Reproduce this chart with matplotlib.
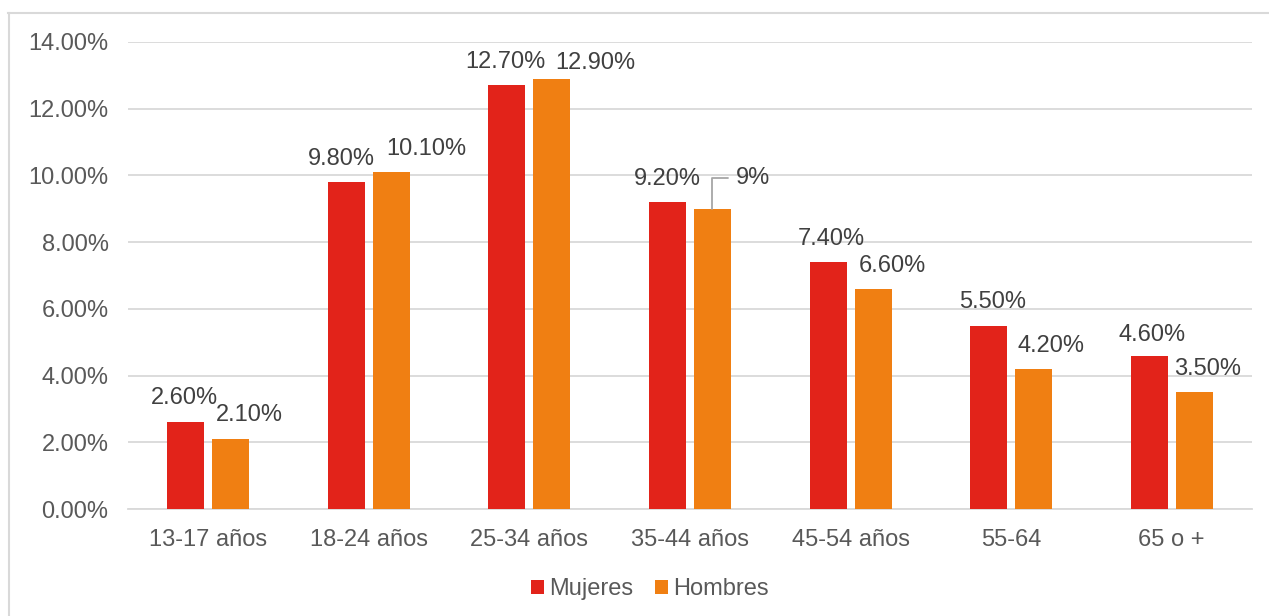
import numpy as np
import matplotlib.pyplot as plt
from matplotlib.lines import Line2D

# datos
categorias = ['13-17 años', '18-24 años', '25-34 años', '35-44 años',
              '45-54 años', '55-64', '65 o +']
mujeres = [2.6, 9.8, 12.7, 9.2, 7.4, 5.5, 4.6]
hombres = [2.1, 10.1, 12.9, 9.0, 6.6, 4.2, 3.5]
etq_mujeres = ['2.60%', '9.80%', '12.70%', '9.20%', '7.40%', '5.50%', '4.60%']
etq_hombres = ['2.10%', '10.10%', '12.90%', '9%', '6.60%', '4.20%', '3.50%']

# desplazamientos de etiquetas (pixeles)
off_m = [(-1, 24), (-5, 23), (-2, 23), (0, 23), (3, 23), (4, 24), (3, 21)]
off_h = [(19, 24), (35, 23), (43, 16), (41, 31), (19, 23), (17, 23), (13, 23)]

ROJO = '#E2231A'
NARANJA = '#F07F12'
GRIS = '#595959'
FS = 17
plt.rcParams['font.family'] = ['Liberation Sans', 'DejaVu Sans']

fig = plt.figure(figsize=(12.69, 6.16), dpi=100)
ax = fig.add_axes([128 / 1269, 1 - 509 / 616, (1252 - 128) / 1269, (509 - 42) / 616])

x = np.arange(len(categorias))
w = 0.23
d = 0.14
ax.bar(x - d, np.array(mujeres) / 100, w, color=ROJO, label='Mujeres', zorder=3)
ax.bar(x + d, np.array(hombres) / 100, w, color=NARANJA, label='Hombres', zorder=3)

for i in range(len(x)):
    ax.annotate(etq_mujeres[i], (x[i] - d, mujeres[i] / 100), xytext=off_m[i],
                textcoords='offset pixels', ha='center', va='center',
                fontsize=FS, color='#404040')
    if etq_hombres[i] == '9%':
        # etiqueta con linea guia
        ax.annotate(etq_hombres[i], (x[i] + d, hombres[i] / 100), xytext=off_h[i],
                    textcoords='offset pixels', ha='center', va='center',
                    fontsize=FS, color='#404040',
                    arrowprops=dict(arrowstyle='-', color='#a6a6a6', lw=1.3,
                                    connectionstyle='angle,angleA=0,angleB=90,rad=0',
                                    shrinkA=4, shrinkB=0))
    else:
        ax.annotate(etq_hombres[i], (x[i] + d, hombres[i] / 100), xytext=off_h[i],
                    textcoords='offset pixels', ha='center', va='center',
                    fontsize=FS, color='#404040')

ax.set_xlim(-0.5, len(x) - 0.5)
ax.set_ylim(0, 0.14)
ax.set_yticks(np.arange(0, 0.141, 0.02))
ax.set_yticklabels(['%.2f%%' % (v * 100) for v in np.arange(0, 0.141, 0.02)])
ax.set_xticks(x)
ax.set_xticklabels(categorias)
ax.tick_params(axis='both', length=0, labelsize=FS, colors=GRIS)
ax.tick_params(axis='y', pad=14)
ax.tick_params(axis='x', pad=14.5)
ax.grid(axis='y', color='#d9d9d9', lw=1.3, zorder=0)
for s in ['top', 'right', 'left']:
    ax.spines[s].set_visible(False)
ax.spines['bottom'].set_color('#d9d9d9')
ax.spines['bottom'].set_linewidth(1.3)

ax.legend(loc='center', bbox_to_anchor=(650 / 1269, (616 - 589) / 616), bbox_transform=fig.transFigure,
          ncol=2, frameon=False, fontsize=FS, labelcolor=GRIS, handlelength=0.55,
          handleheight=0.55, handletextpad=0.2, columnspacing=0.95)

# borde exterior
fig.add_artist(Line2D([8 / 1269, 1], [1 - 12.5 / 616, 1 - 12.5 / 616], color='#d9d9d9', lw=1.5))
fig.add_artist(Line2D([9 / 1269, 9 / 1269], [0, 1 - 12.5 / 616], color='#d9d9d9', lw=1.5))

fig.savefig('out.png', dpi=100)
